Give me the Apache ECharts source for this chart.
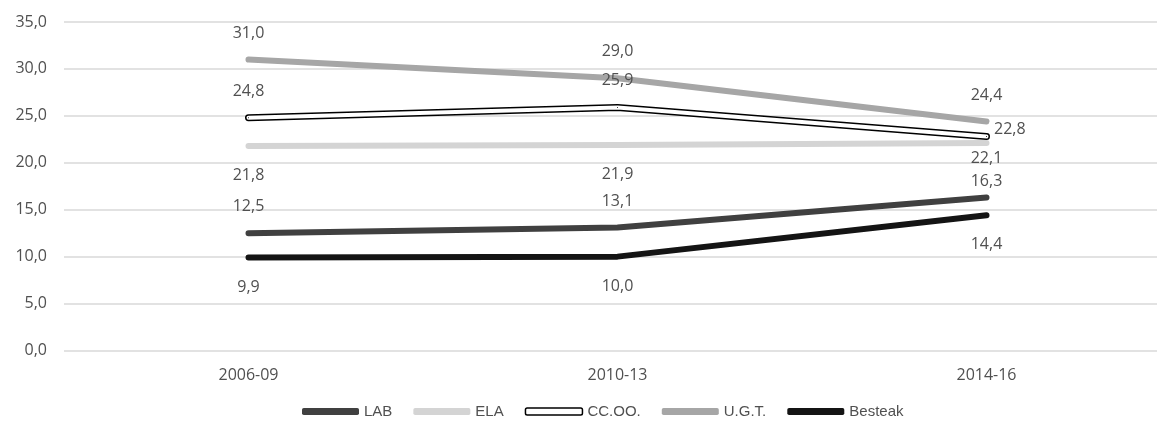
<!DOCTYPE html>
<html><head><meta charset="utf-8">
<script src="https://cdn.jsdelivr.net/npm/echarts@6/dist/echarts.min.js"></script>
<style>html,body{margin:0;padding:0;background:#fff;overflow:hidden;width:1157px;height:430px}#c{width:1171px;height:430px}</style>
</head><body><div id="c"></div>
<script>
const categories = ['2006-09', '2010-13', '2014-16'];
const labValues = [12.5, 13.1, 16.3];
const elaValues = [21.8, 21.9, 22.1];
const ccooValues = [24.8, 25.9, 22.8];
const ugtValues = [31.0, 29.0, 24.4];
const besteakValues = [9.9, 10.0, 14.4];
const seriesNames = ['LAB', 'ELA', 'CC.OO.', 'U.G.T.', 'Besteak'];

const txt = '#505050';
const numFont = 'Open Sans';
const fmt = v => Number(v).toFixed(1).replace('.', ',');

function lineSeries(name, values, color, width, pos, dist, overrides, z) {
  return {
    name: name, type: 'line', z: z,
    data: values.map((v, i) => overrides && overrides[i] ? { value: v, label: overrides[i] } : v),
    symbol: 'circle', symbolSize: 1, showSymbol: true,
    itemStyle: { color: color },
    lineStyle: { color: color, width: width, cap: 'round', join: 'round' },
    label: { show: true, position: pos, distance: dist, formatter: p => fmt(p.value),
      color: txt, fontFamily: numFont, fontSize: 16 },
    emphasis: { disabled: true }, animation: false
  };
}

const series = [
  lineSeries(seriesNames[0], labValues, '#404040', 6, 'top', 18, { 2: { distance: 8 } }, 2),
  lineSeries(seriesNames[1], elaValues, '#d4d4d4', 6, 'bottom', 21, { 2: { distance: 7 } }, 2),
  lineSeries(seriesNames[2], ccooValues, '#000000', 7, 'top', 18, { 2: { position: 'right', distance: 7, offset: [0, -7] } }, 2),
  {
    name: seriesNames[2], type: 'line', z: 2, data: ccooValues, symbol: 'none', silent: true,
    lineStyle: { color: '#ffffff', width: 4, cap: 'round', join: 'round' }, itemStyle: { color: '#ffffff' },
    emphasis: { disabled: true }, animation: false
  },
  lineSeries(seriesNames[3], ugtValues, '#a6a6a6', 6, 'top', 18, null, 2),
  lineSeries(seriesNames[4], besteakValues, '#141414', 6, 'bottom', 21, null, 2)
];

const legendStyles = [
  { color: '#404040' }, { color: '#d4d4d4' },
  { color: '#ffffff', borderColor: '#000000', borderWidth: 1.5 },
  { color: '#a6a6a6' }, { color: '#141414' }
];

const chart = echarts.init(document.getElementById('c'), null, { renderer: 'canvas' });
chart.setOption({
  backgroundColor: '#ffffff',
  animation: false,
  grid: { left: 64, top: 22, right: 0, bottom: 79.5, containLabel: false },
  xAxis: {
    type: 'category', data: categories, boundaryGap: true,
    axisLine: { show: false }, axisTick: { show: false },
    axisLabel: { color: txt, fontFamily: numFont, fontSize: 16, margin: 17 }
  },
  yAxis: {
    type: 'value', min: 0, max: 35, interval: 5,
    axisLine: { show: false }, axisTick: { show: false },
    axisLabel: { color: txt, fontFamily: numFont, fontSize: 16, margin: 17, formatter: v => fmt(v) },
    splitLine: { lineStyle: { color: '#d9d9d9', width: 1.5 } }
  },
  legend: {
    left: 297, top: 399, itemWidth: 57, itemHeight: 7, itemGap: 21, selectedMode: false,
    textStyle: { color: txt, fontFamily: 'Liberation Sans', fontSize: 15 },
    data: seriesNames.map((n, i) => ({ name: n, icon: 'roundRect', itemStyle: legendStyles[i] }))
  },
  series: series
});
</script></body></html>
